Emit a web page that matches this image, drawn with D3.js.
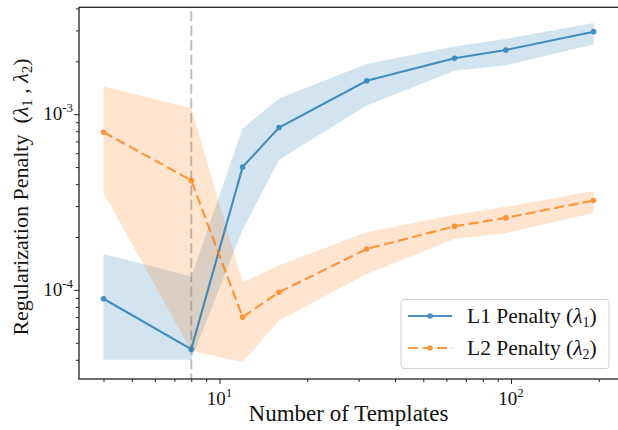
<!DOCTYPE html>
<html>
<head>
<meta charset="utf-8">
<script src="https://cdn.jsdelivr.net/npm/d3@7"></script>
<style>
  html, body { margin: 0; padding: 0; background: #fff; }
  svg { display: block; }
  text { font-family: "Liberation Serif", "Times New Roman", "DejaVu Serif", serif; }
</style>
</head>
<body>
<svg id="chart" width="618" height="430"></svg>
<script>
// Number of templates on the x axis
const templates = [4, 8, 12, 16, 32, 64, 96, 192];

// L1 penalty (lambda_1): mean and spread band
const l1Mean = [8.9e-5, 4.6e-5, 5.0e-4, 8.4e-4, 1.55e-3, 2.08e-3, 2.32e-3, 2.95e-3];
const l1Low  = [4.0e-5, 4.0e-5, 2.2e-4, 5.5e-4, 1.12e-3, 1.77e-3, 1.90e-3, 2.49e-3];
const l1High = [1.6e-4, 1.19e-4, 8.3e-4, 1.23e-3, 1.93e-3, 2.43e-3, 2.68e-3, 3.31e-3];

// L2 penalty (lambda_2): mean and spread band
const l2Mean = [7.9e-4, 4.2e-4, 7.0e-5, 9.7e-5, 1.71e-4, 2.30e-4, 2.57e-4, 3.23e-4];
const l2Low  = [3.57e-4, 4.5e-5, 3.87e-5, 6.7e-5, 1.23e-4, 1.95e-4, 2.11e-4, 2.74e-4];
const l2High = [1.44e-3, 1.08e-3, 1.10e-4, 1.38e-4, 2.13e-4, 2.68e-4, 2.97e-4, 3.65e-4];

// Marked template count
const markedTemplates = 8;

// Tick labels
const xTickValues = [10, 100];
const xTickExps = ["1", "2"];
const yTickValues = [1e-4, 1e-3];
const yTickExps = ["-4", "-3"];

const FONT = "'Liberation Serif', 'Times New Roman', 'DejaVu Serif', serif";
const svg = d3.select("#chart").attr("font-family", FONT);
const padL = 79, padR = 618, padT = 7.3, padB = 379;

const x = d3.scaleLog().domain([3.296, 232.8]).range([padL, padR]);
const y = d3.scaleLog().domain([3.11e-5, 4.06e-3]).range([padB, padT]);

const blue = "#1f77b4", orange = "#ff7f0e";

const plot = svg.append("g");
plot.append("clipPath").attr("id", "clip")
  .append("rect").attr("x", padL).attr("y", padT).attr("width", padR - padL).attr("height", padB - padT);
const g = plot.append("g").attr("clip-path", "url(#clip)");

const series = [
  { mean: l1Mean, low: l1Low, high: l1High, color: blue, dash: null },
  { mean: l2Mean, low: l2Low, high: l2High, color: orange, dash: "10,4.5" }
];

const area = d3.area().x(d => x(d.t)).y0(d => y(d.lo)).y1(d => y(d.hi));
const line = d3.line().x(d => x(d.t)).y(d => y(d.v));

// Spread bands
series.forEach(s => {
  const pts = templates.map((t, i) => ({ t, lo: s.low[i], hi: s.high[i] }));
  g.append("path").datum(pts).attr("d", area)
    .attr("fill", s.color).attr("fill-opacity", 0.2);
});

// Marked template count
g.append("line")
  .attr("x1", x(markedTemplates)).attr("x2", x(markedTemplates))
  .attr("y1", padT).attr("y2", padB)
  .attr("stroke", "gray").attr("stroke-opacity", 0.5)
  .attr("stroke-width", 2).attr("stroke-dasharray", "10,4.5")
  .attr("stroke-dashoffset", -4);

// Mean lines with markers
series.forEach(s => {
  const pts = templates.map((t, i) => ({ t, v: s.mean[i] }));
  const lg = g.append("g").attr("opacity", 0.8);
  lg.append("path").datum(pts).attr("d", line)
    .attr("fill", "none").attr("stroke", s.color).attr("stroke-width", 2.1)
    .attr("stroke-dasharray", s.dash);
  lg.selectAll("circle").data(pts).join("circle")
    .attr("cx", d => x(d.t)).attr("cy", d => y(d.v)).attr("r", 2.8)
    .attr("fill", s.color);
});

// Axes
const axisColor = "#222";
const xMinor = [4, 5, 6, 7, 8, 9, 20, 30, 40, 50, 60, 70, 80, 90, 200];
const yMinor = [4e-5, 5e-5, 6e-5, 7e-5, 8e-5, 9e-5,
  2e-4, 3e-4, 4e-4, 5e-4, 6e-4, 7e-4, 8e-4, 9e-4, 2e-3, 3e-3, 4e-3];

const xAxis = svg.append("g").attr("transform", `translate(0,${padB})`)
  .call(d3.axisBottom(x).tickValues(xTickValues).tickSize(5).tickFormat(""));
const xAxisMinor = svg.append("g").attr("transform", `translate(0,${padB})`)
  .call(d3.axisBottom(x).tickValues(xMinor).tickSize(3).tickFormat(""));
const yAxis = svg.append("g").attr("transform", `translate(${padL},0)`)
  .call(d3.axisLeft(y).tickValues(yTickValues).tickSize(5).tickFormat(""));
const yAxisMinor = svg.append("g").attr("transform", `translate(${padL},0)`)
  .call(d3.axisLeft(y).tickValues(yMinor).tickSize(3).tickFormat(""));
[xAxis, xAxisMinor, yAxis, yAxisMinor].forEach(a => {
  a.select(".domain").remove();
  a.selectAll(".tick line").attr("stroke", axisColor).attr("stroke-width", 1);
});

// Spines
svg.append("rect").attr("x", padL).attr("y", padT)
  .attr("width", padR - padL + 2).attr("height", padB - padT)
  .attr("fill", "none").attr("stroke", axisColor).attr("stroke-width", 1.3);

// Tick labels with superscript exponents
xTickValues.forEach((v, i) => {
  const t = svg.append("text").attr("x", x(v)).attr("y", padB + 26)
    .attr("text-anchor", "middle").attr("font-size", 19).attr("fill", "#111");
  t.append("tspan").text("10");
  t.append("tspan").attr("dy", -8).attr("font-size", 13).text(xTickExps[i]);
});
yTickValues.forEach((v, i) => {
  const t = svg.append("text").attr("x", padL - 6).attr("y", y(v) + 6)
    .attr("text-anchor", "end").attr("font-size", 19).attr("fill", "#111");
  t.append("tspan").text("10");
  t.append("tspan").attr("dy", -8).attr("font-size", 13).text(yTickExps[i]);
});

// Axis titles
svg.append("text").attr("x", (padL + padR) / 2).attr("y", 421)
  .attr("text-anchor", "middle").attr("font-size", 23).attr("fill", "#111")
  .text("Number of Templates");

const yt = svg.append("text")
  .attr("transform", `translate(28,197) rotate(-90)`)
  .attr("text-anchor", "middle").attr("font-size", 22).attr("fill", "#111");
yt.append("tspan").text("Regularization Penalty\u2002(");
yt.append("tspan").attr("font-style", "italic").text("\u03bb");
yt.append("tspan").attr("dy", 4).attr("font-size", 15).text("1");
yt.append("tspan").attr("dy", -4).text(" , ");
yt.append("tspan").attr("font-style", "italic").text("\u03bb");
yt.append("tspan").attr("dy", 4).attr("font-size", 15).text("2");
yt.append("tspan").attr("dy", -4).text(")");

// Legend
const legend = svg.append("g");
legend.append("rect").attr("x", 401).attr("y", 299.5).attr("width", 208).attr("height", 69)
  .attr("rx", 3).attr("fill", "#fff").attr("fill-opacity", 0.8)
  .attr("stroke", "#d0d0d0").attr("stroke-width", 1);
const legendItems = [
  { name: "L1 Penalty (", sub: "1", color: blue, dash: null },
  { name: "L2 Penalty (", sub: "2", color: orange, dash: "10,4.5" }
];
legendItems.forEach((d, i) => {
  const cy = 316 + i * 32;
  const lg = legend.append("g").attr("opacity", 0.8);
  lg.append("line").attr("x1", 408).attr("x2", 452).attr("y1", cy).attr("y2", cy)
    .attr("stroke", d.color).attr("stroke-width", 2.1).attr("stroke-dasharray", d.dash);
  lg.append("circle").attr("cx", 430).attr("cy", cy).attr("r", 2.8).attr("fill", d.color);
  const t = legend.append("text").attr("x", 467).attr("y", cy + 7)
    .attr("font-size", 21.5).attr("fill", "#111");
  t.append("tspan").text(d.name);
  t.append("tspan").attr("font-style", "italic").text("\u03bb");
  t.append("tspan").attr("dy", 4).attr("font-size", 14).text(d.sub);
  t.append("tspan").attr("dy", -4).text(")");
});
</script>
</body>
</html>
